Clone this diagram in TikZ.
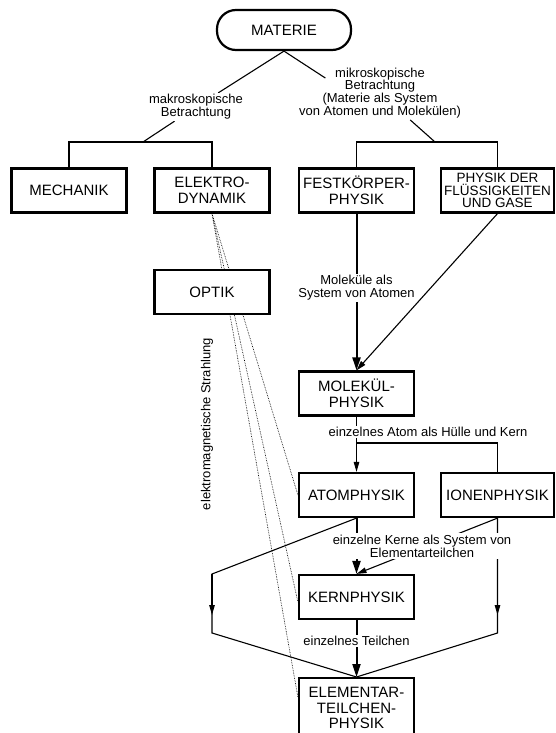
\documentclass[tikz,border=0pt]{standalone}
\usepackage{fontspec}
\setmainfont{Liberation Sans}
\usetikzlibrary{arrows.meta,calc,backgrounds}
\tikzset{
	box/.style={draw,line width=2.2pt,fill=white,minimum width=115pt,minimum height=44pt,inner sep=1pt,align=center,font=\fontsize{15}{16.5}\selectfont},
	topbox/.style={draw,line width=2.2pt,rounded corners=19pt,minimum width=134pt,minimum height=40pt,font=\fontsize{15}{16.5}\selectfont},
	lbl/.style={fill=white,inner sep=1.5pt,align=center,font=\fontsize{13}{12.8}\selectfont},
	link/.style={line width=1.1pt},
	thinarrow/.style={line width=1.1pt,-{Triangle[length=10pt,width=5.5pt]}},
	bigarrow/.style={line width=2pt,-{Triangle[length=13pt,width=8pt]}},
	ray/.style={densely dotted,line width=0.65pt}
}
\begin{document}
\begin{tikzpicture}[x=1pt,y=-1pt]
			\useasboundingbox (0,0) rectangle (555,733);
			\node[topbox] (materie) at (284,30) {MATERIE};
			\node[lbl] (makro) at (196,107) {makroskopische\\Betrachtung};
			\node[lbl,fill=none] (mikro) at (380,93) {mikroskopische\\Betrachtung\\(Materie als System\\von Atomen und Molekülen)};
			\coordinate (barL) at (143,142);
			\coordinate (barR) at (435,142);
			\node[box] (mech) at (69,190.5) {MECHANIK};
			\node[box] (elek) at (212,190.5) {ELEKTRO-\\DYNAMIK};
			\node[box] (fest) at (356.5,190.5) {FESTKÖRPER-\\PHYSIK};
			\node[box,minimum width=113pt,font=\fontsize{13.5}{12.8}\selectfont] (phys) at (497.5,190.5) {PHYSIK DER\\FLÜSSIGKEITEN\\UND GASE};
			\node[box] (optik) at (212,292) {OPTIK};
			\node[lbl,fill=none,rotate=90] (strahl) at (207,424) {elektromagnetische Strahlung};
			\node[lbl] (molLbl) at (356.5,288) {Moleküle als\\System von Atomen};
			\node[box] (molek) at (356.5,393.5) {MOLEKÜL-\\PHYSIK};
			\node[lbl] (atomLbl) at (428,432) {einzelnes Atom als Hülle und Kern};
			\coordinate (barA) at (356.5,443);
			\node[box] (atom) at (356.5,495) {ATOMPHYSIK};
			\node[box,minimum width=113pt] (ionen) at (497.5,495) {IONENPHYSIK};
			\node[lbl] (kernLbl) at (422,546) {einzelne Kerne als System von\\Elementarteilchen};
			\node[box] (kern) at (356.5,597) {KERNPHYSIK};
			\node[lbl] (teilLbl) at (356.5,641) {einzelnes Teilchen};
			\node[box,anchor=north,minimum height=60pt,font=\fontsize{15}{15.5}\selectfont] (elem) at (356.5,677) {ELEMENTAR-\\TEILCHEN-\\PHYSIK};
			\coordinate (cL1) at (212,574);
			\coordinate (aL) at (212,615);
			\coordinate (cL2) at (212,633);
			\coordinate (aR) at (ionen.south |- aL);
			\coordinate (cR2) at (ionen.south |- cL2);
			\begin{scope}[on background layer]
			\draw[link] (materie.south) -- (makro) -- (barL);
			\draw[link] (materie.south) -- ($(mikro.north west)+(28,12)$);
			\draw[link] (mikro) -- (barR);
			\draw[link] (mech.north) |- (barL) -| (elek.north);
			\draw[link] (fest.north) |- (barR) -| (phys.north);
			\draw[ray] (elek.south) -- (atom.west);
			\draw[ray] (elek.south) -- ([yshift=-5pt]kern.west);
			\draw[ray] (elek.south) -- ([yshift=-20pt]elem.north west);
			\draw[bigarrow] (fest) -- (molek);
			\draw[thinarrow] (phys.south) -- (molek.north);
			\draw[link] (molek) -- (barA) -| (ionen.north);
			\draw[thinarrow] (barA) -- (atom);
			\draw[bigarrow] (atom) -- (kern);
			\draw[thinarrow] (ionen.south) -- (kern.north);
			\draw[bigarrow] (kern) -- (elem);
			\draw[link] (atom.south) -- (cL1) -- (cL2) -- (elem.north);
			\draw[thinarrow] (cL1) -- (aL);
			\draw[link] (ionen.south) -- (cR2) -- (elem.north);
			\draw[thinarrow] (ionen.south) -- (aR);
			\end{scope}
\end{tikzpicture}
\end{document}
